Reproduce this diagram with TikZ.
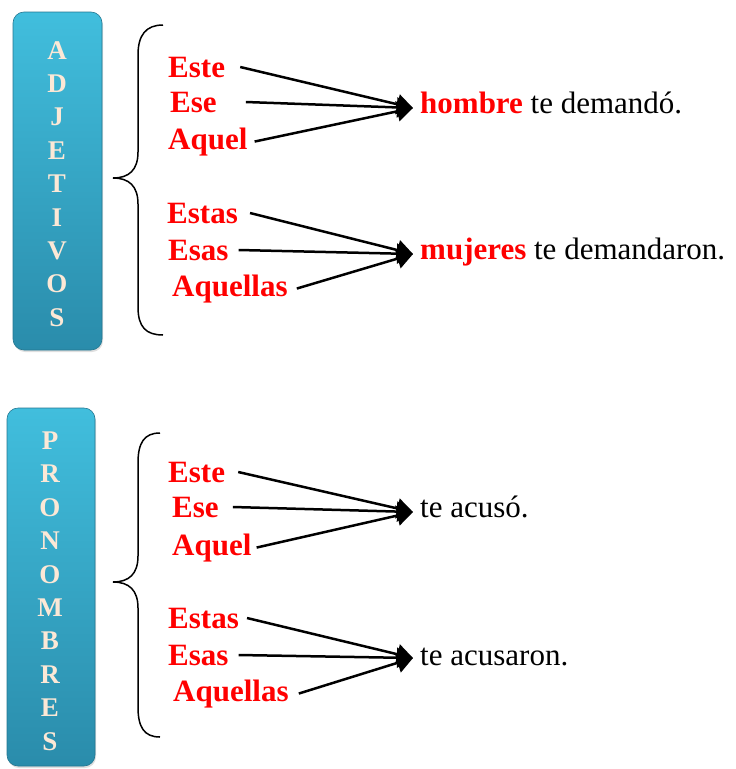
\documentclass[tikz,border=0pt]{standalone}
\usepackage{fontspec}
\setmainfont{Liberation Serif}
\usepackage{tikz}
\usetikzlibrary{arrows.meta,shadows}
\definecolor{boxtop}{HTML}{41BEDD}
\definecolor{boxbot}{HTML}{2A8CAB}
\definecolor{cream}{HTML}{FCE8D6}

\begin{document}
\begin{tikzpicture}[x=1pt,y=-1pt,
	every node/.style={inner sep=0pt},
	word/.style={anchor=base west,text=red,font=\fontsize{31}{31}\selectfont\bfseries},
	result/.style={anchor=base west,font=\fontsize{31}{31}\selectfont},
	tab/.style={rounded corners=11pt,top color=boxtop,bottom color=boxbot,draw=boxbot!85!black,line width=0.6pt,
		drop shadow={shadow xshift=1pt,shadow yshift=-2pt,opacity=0.25}},
	letters/.style={text=cream,align=center,font=\fontsize{27}{33.4}\selectfont\bfseries},
	link/.style={line width=2.5pt,-{Triangle[length=16pt,width=20pt]}},
	curly/.style={line width=1.5pt}]
	\useasboundingbox (0,0) rectangle (736,769);

	% adjetivos
	\path[tab] (13,12) rectangle (102,350);
	\node[letters] (adjtab) at (57,184) {A\\D\\J\\E\\T\\I\\V\\O\\S};
	\draw[curly] (163,25) .. controls (146,25) and (138,35) .. (138,55) -- (138,152)
		.. controls (138,170) and (129,178) .. (113,178)
		.. controls (129,178) and (138,186) .. (138,204) -- (138,307)
		.. controls (138,327) and (146,335) .. (163,335);

	\node[word] (este1) at (168,77) {Este};
	\node[word] (ese1) at (170,112) {Ese};
	\node[word] (aquel1) at (168,149) {Aquel};
	\coordinate (hub1) at (413,108);
	\node[result] (hombre) at (420,113) {\textcolor{red}{\bfseries hombre} te demandó.};
	\draw[link] ([xshift=15pt]este1.east) -- (hub1);
	\draw[link] ([xshift=29pt]ese1.east) -- (hub1);
	\draw[link] ([xshift=7pt]aquel1.east) -- (hub1);

	\node[word] (estas1) at (167,223) {Estas};
	\node[word] (esas1) at (168,260) {Esas};
	\node[word] (aquellas1) at (172,296) {Aquellas};
	\coordinate (hub2) at (413,254);
	\node[result] (mujeres) at (420,259) {\textcolor{red}{\bfseries mujeres} te demandaron.};
	\draw[link] ([xshift=12pt]estas1.east) -- (hub2);
	\draw[link] ([xshift=10pt]esas1.east) -- (hub2);
	\draw[link] ([xshift=9pt]aquellas1.east) -- (hub2);

	% pronombres
	\path[tab] (7,408) rectangle (95,766);
	\node[letters] (prontab) at (50,591) {P\\R\\O\\N\\O\\M\\B\\R\\E\\S};
	\draw[curly] (160,433) .. controls (144,433) and (138,443) .. (138,463) -- (138,556)
		.. controls (138,574) and (129,582) .. (113,582)
		.. controls (129,582) and (138,590) .. (138,608) -- (138,707)
		.. controls (138,727) and (144,737) .. (160,737);

	\node[word] (este2) at (168,482) {Este};
	\node[word] (ese2) at (172,517) {Ese};
	\node[word] (aquel2) at (172,555) {Aquel};
	\coordinate (hub3) at (413,512);
	\node[result] (acuso) at (420,517) {te acusó.};
	\draw[link] ([xshift=13pt]este2.east) -- (hub3);
	\draw[link] ([xshift=14pt]ese2.east) -- (hub3);
	\draw[link] ([xshift=5pt]aquel2.east) -- (hub3);

	\node[word] (estas2) at (168,628) {Estas};
	\node[word] (esas2) at (168,665) {Esas};
	\node[word] (aquellas2) at (173,701) {Aquellas};
	\coordinate (hub4) at (413,658);
	\node[result] (acusaron) at (420,665) {te acusaron.};
	\draw[link] ([xshift=8pt]estas2.east) -- (hub4);
	\draw[link] ([xshift=10pt]esas2.east) -- (hub4);
	\draw[link] ([xshift=10pt]aquellas2.east) -- (hub4);
\end{tikzpicture}
\end{document}
